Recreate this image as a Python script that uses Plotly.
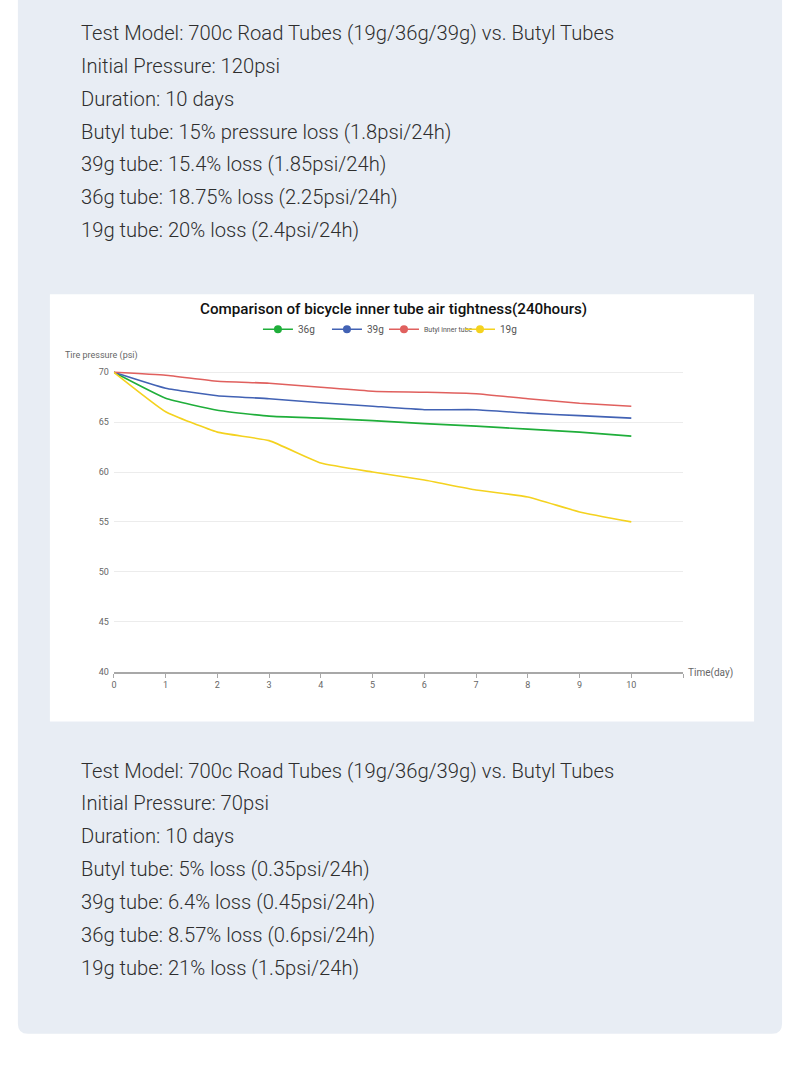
import plotly.graph_objects as go

W, H = 800, 1069
# small correction for the way the page is photographed (content came out ~0.5% small)
SX, SY = 1.004, 1.0055

# pressure readings (psi), one per day
days = [0, 1, 2, 3, 4, 5, 6, 7, 8, 9, 10]
tube_36g = [70, 67.4, 66.2, 65.6, 65.4, 65.15, 64.85, 64.6, 64.3, 64.0, 63.6]
tube_39g = [70, 68.4, 67.65, 67.35, 66.95, 66.6, 66.25, 66.25, 65.9, 65.65, 65.4]
butyl_tube = [70, 69.7, 69.1, 68.9, 68.5, 68.1, 68.0, 67.85, 67.35, 66.9, 66.6]
tube_19g = [70, 66.05, 64.0, 63.15, 60.9, 60.0, 59.2, 58.2, 57.5, 56.0, 55.0]

series_names = ['36g', '39g', 'Butyl inner tube', '19g']
series_colors = ['#1fae3a', '#4262b4', '#e0605e', '#f4d21f']
y_ticks = [40, 45, 50, 55, 60, 65, 70]
x_ticks = [0, 1, 2, 3, 4, 5, 6, 7, 8, 9, 10, 11]
x_ticktext = ['0', '1', '2', '3', '4', '5', '6', '7', '8', '9', '10', '']

notes_120 = [
    'Test Model: 700c Road Tubes (19g/36g/39g) vs. Butyl Tubes',
    'Initial Pressure: 120psi',
    'Duration: 10 days',
    'Butyl tube: 15% pressure loss (1.8psi/24h)',
    '39g tube: 15.4% loss (1.85psi/24h)',
    '36g tube: 18.75% loss (2.25psi/24h)',
    '19g tube: 20% loss (2.4psi/24h)',
]
notes_70 = [
    'Test Model: 700c Road Tubes (19g/36g/39g) vs. Butyl Tubes',
    'Initial Pressure: 70psi',
    'Duration: 10 days',
    'Butyl tube: 5% loss (0.35psi/24h)',
    '39g tube: 6.4% loss (0.45psi/24h)',
    '36g tube: 8.57% loss (0.6psi/24h)',
    '19g tube: 21% loss (1.5psi/24h)',
]


def px(x):
    return (782 - (782 - x) * SX) / W


def py(y):
    return 1 - y * SY / H


def rounded_rect(x0, y0, x1, y1, r):
    # path in paper coords, corners rounded with quadratic curves
    return (f'M{px(x0 + r)},{py(y0)} L{px(x1 - r)},{py(y0)} Q{px(x1)},{py(y0)} {px(x1)},{py(y0 + r)} '
            f'L{px(x1)},{py(y1 - r)} Q{px(x1)},{py(y1)} {px(x1 - r)},{py(y1)} '
            f'L{px(x0 + r)},{py(y1)} Q{px(x0)},{py(y1)} {px(x0)},{py(y1 - r)} '
            f'L{px(x0)},{py(y0 + r)} Q{px(x0)},{py(y0)} {px(x0 + r)},{py(y0)} Z')


fig = go.Figure()

all_series = [tube_36g, tube_39g, butyl_tube, tube_19g]
legend_ids = ['legend', 'legend2', 'legend3', 'legend4']
for vals, name, color, lg in zip(all_series, series_names, series_colors, legend_ids):
    fig.add_trace(go.Scatter(x=days, y=vals, mode='lines', name=name, showlegend=False,
                             line=dict(color=color, width=1.6, shape='spline', smoothing=0.4),
                             hoverinfo='x+y'))
    # legend entry with a dot, like the original
    fig.add_trace(go.Scatter(x=[None], y=[None], mode='lines+markers', name=name, legend=lg,
                             line=dict(color=color, width=1.6),
                             marker=dict(color=color, size=8)))

fig.update_xaxes(domain=[px(114), px(683)], range=[0, 11], tickvals=x_ticks, ticktext=x_ticktext,
                 showgrid=False, zeroline=False, showline=True, linecolor='#a8a8a8', linewidth=2,
                 ticks='outside', ticklen=4, tickcolor='#a8a8a8', tickwidth=1,
                 tickfont=dict(family='Roboto', size=9, color='#666666'))
fig.update_yaxes(domain=[py(671), py(366)], range=[40, 70.6], tickvals=y_ticks,
                 showgrid=True, gridcolor='#ececec', gridwidth=1, zeroline=False, showline=False,
                 ticks='', ticklabelstandoff=4,
                 tickfont=dict(family='Roboto', size=9, color='#666666'))

shapes = [
    dict(type='path', xref='paper', yref='paper', path=rounded_rect(18, -20, 782, 1033, 10),
         fillcolor='#e8edf4', line=dict(width=0), layer='below'),
    dict(type='rect', xref='paper', yref='paper', x0=px(50), x1=px(754), y0=py(721), y1=py(294),
         fillcolor='#ffffff', line=dict(width=0), layer='below'),
]

annotations = []
for i, t in enumerate(notes_120):
    annotations.append(dict(text=t, x=px(79), y=py(33 + i * 32.8), xref='paper', yref='paper',
                            xanchor='left', yanchor='middle', showarrow=False,
                            font=dict(family='Roboto', size=20.2, color='#2e2e2e', weight=300)))
for i, t in enumerate(notes_70):
    annotations.append(dict(text=t, x=px(79), y=py(770 + i * 32.8), xref='paper', yref='paper',
                            xanchor='left', yanchor='middle', showarrow=False,
                            font=dict(family='Roboto', size=20.2, color='#2e2e2e', weight=300)))
annotations.append(dict(text='Comparison of bicycle inner tube air tightness(240hours)',
                        x=px(394), y=py(309), xref='paper', yref='paper', xanchor='center',
                        yanchor='middle', showarrow=False,
                        font=dict(family='Roboto', size=15.2, color='#111111', weight=500)))
annotations.append(dict(text='Tire pressure (psi)', x=px(63), y=py(355), xref='paper', yref='paper',
                        xanchor='left', yanchor='middle', showarrow=False,
                        font=dict(family='Roboto', size=9, color='#666666')))
annotations.append(dict(text='Time(day)', x=px(686), y=py(672), xref='paper', yref='paper',
                        xanchor='left', yanchor='middle', showarrow=False,
                        font=dict(family='Roboto', size=10, color='#666666')))

legend_text_x = [302, 371, 428, 504]
legend_font = [10, 10, 7, 10]
layout_legends = {}
for lg, tx, fs in zip(legend_ids, legend_text_x, legend_font):
    layout_legends[lg] = dict(x=px(tx - 44), y=py(329), xanchor='left', yanchor='middle',
                              orientation='h', bgcolor='rgba(0,0,0,0)', borderwidth=0,
                              font=dict(family='Roboto', size=fs, color='#555555'))

fig.update_layout(width=W, height=H, margin=dict(l=0, r=0, t=0, b=0),
                  paper_bgcolor='#ffffff', plot_bgcolor='rgba(0,0,0,0)',
                  shapes=shapes, annotations=annotations, **layout_legends)

# the page body has a default 8px margin; drop it so the figure sits at the page corner
fig.write_html('out.html', config={'displayModeBar': False},
               post_script="document.body.style.margin='0px';")
